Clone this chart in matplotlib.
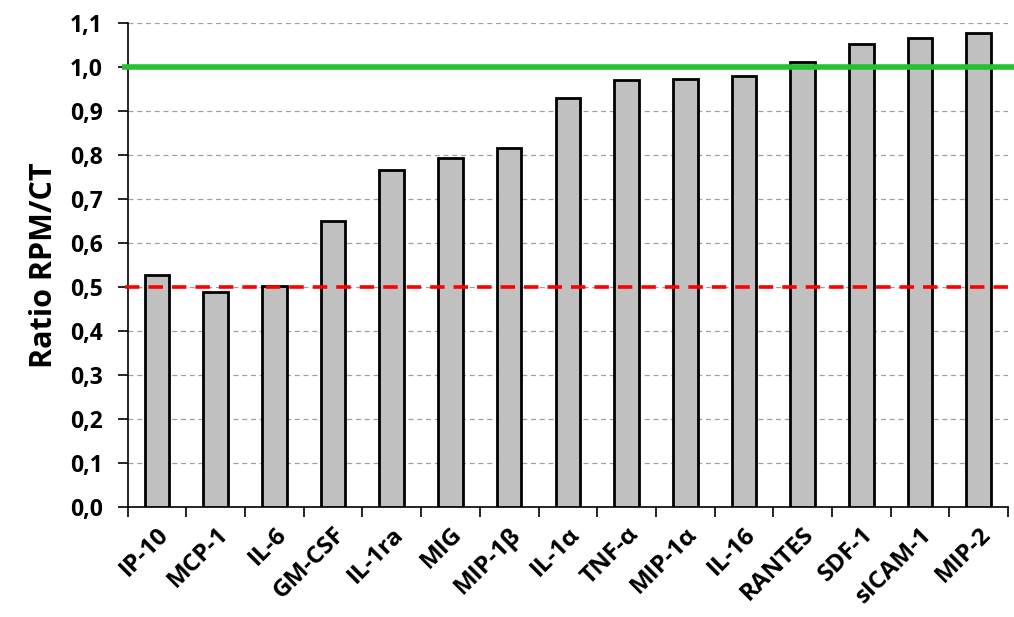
import matplotlib.pyplot as plt
import numpy as np

# Datos del grafico
citoquinas = ["IP-10", "MCP-1", "IL-6", "GM-CSF", "IL-1ra", "MIG", "MIP-1β", "IL-1α",
              "TNF-α", "MIP-1α", "IL-16", "RANTES", "SDF-1", "sICAM-1", "MIP-2"]
ratio = [0.527, 0.489, 0.502, 0.650, 0.766, 0.793, 0.816, 0.930,
         0.970, 0.973, 0.980, 1.011, 1.052, 1.066, 1.077]
yticks = [0.0, 0.1, 0.2, 0.3, 0.4, 0.5, 0.6, 0.7, 0.8, 0.9, 1.0, 1.1]
linea_verde = 1.0
linea_roja = 0.5

plt.rcParams['font.family'] = ['Open Sans', 'DejaVu Sans']

fig = plt.figure(figsize=(10.14, 6.17), dpi=100)
ax = fig.add_axes([0.126, 0.178, 0.868, 0.785])

x = np.arange(len(citoquinas))
ax.bar(x, ratio, width=0.42, color="#c0c0c0", edgecolor="black", linewidth=2, zorder=3)

# Lineas de referencia
ax.plot([-0.007, 1.01], [linea_verde, linea_verde], transform=ax.get_yaxis_transform(),
        color="#22c32e", linewidth=4, zorder=4, clip_on=False, solid_capstyle="butt")
ax.plot([-0.003, 1.0], [linea_roja, linea_roja], transform=ax.get_yaxis_transform(),
        color="#ff0000", linewidth=2.6, dashes=(4, 2.5), zorder=4, clip_on=False)

ax.set_xlim(-0.5, len(citoquinas) - 0.5)
ax.set_ylim(0, 1.1)
ax.set_yticks(yticks)
ax.set_yticklabels([f"{v:.1f}".replace(".", ",") for v in yticks],
                   fontsize=16.5, fontweight="bold")
ax.yaxis.grid(True, linestyle=(0, (4, 3)), color="#a0a0a0", linewidth=0.9, zorder=0)

# ticks en los limites de categorias
ax.set_xticks(np.arange(-0.5, len(citoquinas), 1.0))
ax.set_xticklabels([])
ax.set_xticks(x, minor=True)
ax.set_xticklabels(citoquinas, minor=True, rotation=45, ha="right", va="top",
                   rotation_mode="anchor", fontsize=17.5, fontweight="bold")
ax.tick_params(axis="x", which="minor", length=0, pad=11)
ax.tick_params(axis="x", which="major", length=7, width=1.2, direction="out")
ax.tick_params(axis="y", length=7, width=1.2, direction="out", pad=11)

for lado in ["top", "right"]:
    ax.spines[lado].set_visible(False)
ax.spines["left"].set_linewidth(1.2)
ax.spines["bottom"].set_linewidth(1.2)

ax.set_ylabel("Ratio RPM/CT", fontsize=22, fontweight="bold", labelpad=8)

plt.savefig("out.png", dpi=100)
plt.close()
